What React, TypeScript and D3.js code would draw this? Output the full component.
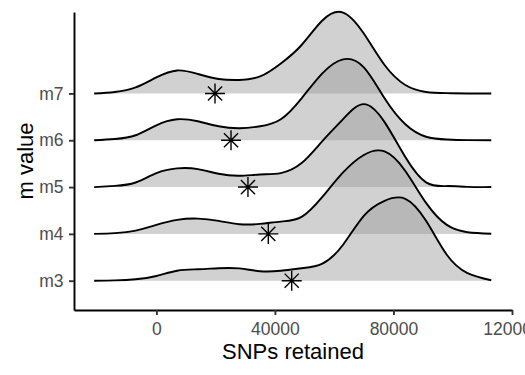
import { useEffect, useRef } from 'react';
import * as d3 from 'd3';

// ── Data ─────────────────────────────────────────────────────────────────────
const LEVELS = ['m3', 'm4', 'm5', 'm6', 'm7'];

// grid of SNP counts where the ridge heights were read
const GRID = [-21000, -14000, -7000, 0, 7000, 14000, 21000, 28000, 35000, 42000,
  49000, 56000, 63000, 70000, 77000, 84000, 91000, 98000, 105000, 113000];

// scaled density per level (arbitrary units, peak ≈ 82)
const DENS_M7 = [0, 1.5, 6, 16, 23, 19.5, 14.5, 13.5, 17, 30, 48.5, 73, 81, 60, 28.5, 8.5, 1.5, 0.3, 0, 0];
const DENS_M6 = [0, 1.3, 5, 15, 21, 19, 14, 12, 14, 21, 42, 67, 81, 73, 42, 16, 3.5, 0.7, 0.1, 0];
const DENS_M5 = [0, 1.2, 4.6, 14, 18.7, 18, 13.3, 11.3, 12.6, 14, 24, 46, 68, 83, 65, 30, 4.7, 1, 0.2, 0];
const DENS_M4 = [0, 0.8, 3.3, 9, 14, 15.3, 13, 9.7, 10, 12.3, 17, 37, 61.5, 79, 82.5, 63, 31, 9, 1.7, 0.2];
const DENS_M3 = [0, 0.3, 1.4, 4.7, 10, 11.4, 12.5, 12.3, 9.5, 10, 12.5, 17, 36, 65, 80, 82, 60, 26, 7.6, 0.5];

// mean SNPs retained (star markers)
const MEANS = [45660, 37760, 30900, 25180, 19780];

const X_TICKS = [0, 40000, 80000, 120000];

const W = 525, H = 375;
const FONT = '"Liberation Sans", Arial, Helvetica, sans-serif';

export default function App() {
  const svgRef = useRef<SVGSVGElement | null>(null);

  useEffect(() => {
    document.body.style.margin = '0';
    if (!svgRef.current) return;
    const svg = d3.select(svgRef.current);
    svg.selectAll('*').remove();

    const x = d3.scaleLinear().domain([-27800, 120000]).range([74, 512]);
    const y = d3.scaleLinear().domain([0.374, 6.74]).range([310, 12]);
    const h = d3.scaleLinear().domain([0, 82]).range([0, 1.75]); // density → rows

    const series = [DENS_M3, DENS_M4, DENS_M5, DENS_M6, DENS_M7];

    // Ridges, back (m7) to front (m3)
    for (let i = LEVELS.length - 1; i >= 0; i--) {
      const base = i + 1;
      const pts = GRID.map((g, j) => ({ v: g, d: series[i][j] }));
      const top = (d: { v: number; d: number }) => Math.min(y(base), y(base + h(d.d)));
      const area = d3.area<{ v: number; d: number }>()
        .x(d => x(d.v)).y0(y(base)).y1(top).curve(d3.curveNatural);
      const line = d3.line<{ v: number; d: number }>()
        .x(d => x(d.v)).y(top).curve(d3.curveNatural);
      svg.append('path').attr('d', area(pts)).attr('fill', '#9a9a9a').attr('fill-opacity', 0.45);
      svg.append('path').attr('d', line(pts)).attr('fill', 'none')
        .attr('stroke', '#000').attr('stroke-width', 1.9).attr('stroke-linejoin', 'round');
    }

    // Mean markers (pch 8)
    const r = 7.07, p = 10;
    MEANS.forEach((m, i) => {
      const cx = x(m), cy = y(i + 1);
      svg.append('path')
        .attr('d', `M${cx - p},${cy}H${cx + p}M${cx},${cy - p}V${cy + p}` +
          `M${cx - r},${cy - r}L${cx + r},${cy + r}M${cx - r},${cy + r}L${cx + r},${cy - r}`)
        .attr('stroke', '#000').attr('stroke-width', 1.4).attr('fill', 'none');
    });

    // Axes
    const styleAxis = (ax: any) => {
      ax.select('.domain').attr('stroke', '#000').attr('stroke-width', 1.9);
      ax.selectAll('.tick line').attr('stroke', '#333').attr('stroke-width', 1.9);
      ax.selectAll('text').attr('fill', '#4d4d4d').style('font-size', '17.5px').style('font-family', FONT);
    };

    svg.append('g').attr('transform', 'translate(0,310)')
      .call(d3.axisBottom(x).tickValues(X_TICKS).tickSize(5).tickSizeOuter(0).tickPadding(8)
        .tickFormat(d => d3.format('d')(d as number)))
      .call(styleAxis);

    svg.append('g').attr('transform', 'translate(74,0)')
      .call(d3.axisLeft(y).tickValues([1, 2, 3, 4, 5]).tickSize(5).tickSizeOuter(0).tickPadding(5.5)
        .tickFormat(d => LEVELS[(d as number) - 1]))
      .call(styleAxis);

    // Axis titles
    svg.append('text').attr('x', 293).attr('y', 359)
      .attr('text-anchor', 'middle').style('font-size', '22px').style('font-family', FONT)
      .attr('fill', '#000').text('SNPs retained');
    svg.append('text').attr('transform', 'translate(33,161) rotate(-90)')
      .attr('text-anchor', 'middle').style('font-size', '22px').style('font-family', FONT)
      .attr('fill', '#000').text('m value');
  }, []);

  return <svg ref={svgRef} width={W} height={H} style={{ display: 'block', background: '#fff' }} />;
}
